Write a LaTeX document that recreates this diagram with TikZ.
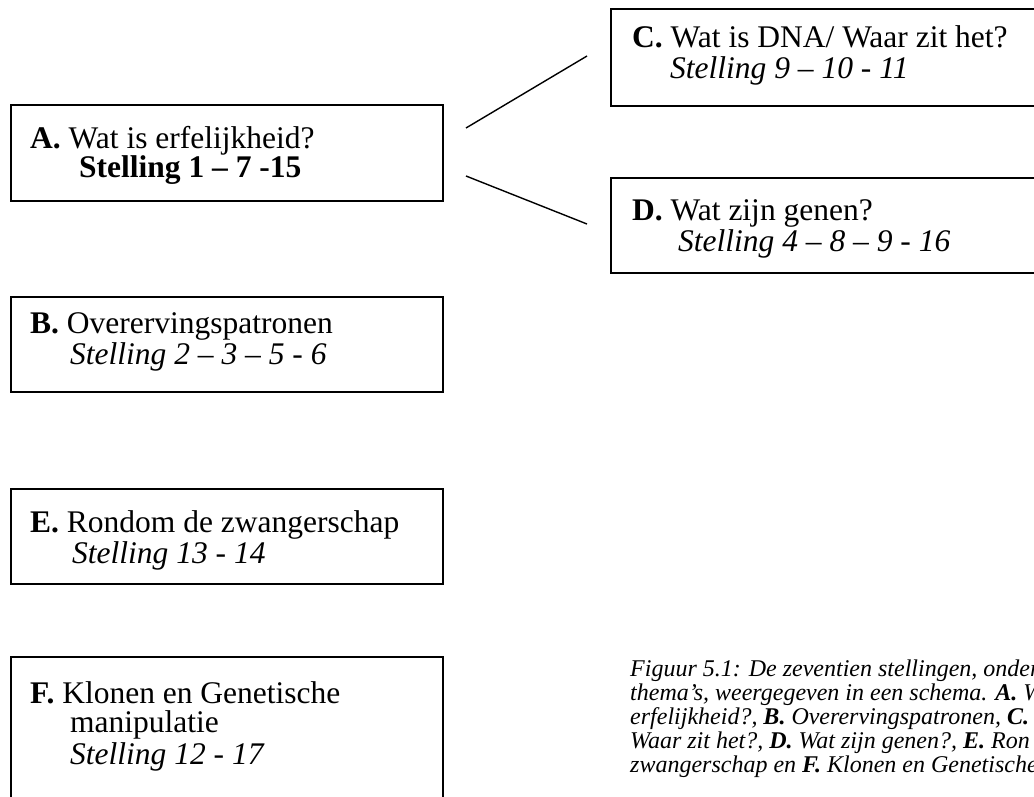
\documentclass[tikz,border=0pt]{standalone}
\usepackage{fontspec}
\setmainfont{Liberation Serif}
\begin{document}
\begin{tikzpicture}[x=1pt,y=-1pt,
  box/.style={draw=black,line width=1.5pt,fill=none,inner sep=0pt,anchor=north west},
  txt/.style={anchor=base west,inner sep=0pt,font=\fontsize{31.5}{36}\selectfont},
  captxt/.style={anchor=base west,inner sep=0pt,font=\fontsize{24}{27}\selectfont\itshape},
  link/.style={line width=1.4pt}]
\useasboundingbox (0,0) rectangle (1034,796);
\clip (0,0) rectangle (1034,796);
% boxes
\node[box,minimum width=432pt,minimum height=96pt] (A) at (10,104) {};
\node[box,minimum width=440pt,minimum height=97pt] (C) at (610,8) {};
\node[box,minimum width=440pt,minimum height=95pt] (D) at (610,177) {};
\node[box,minimum width=432pt,minimum height=95pt] (B) at (10,296) {};
\node[box,minimum width=432pt,minimum height=95pt] (E) at (10,488) {};
\node[box,minimum width=432pt,minimum height=160pt] (F) at (10,656) {};
% texts
\node[txt] (At1) at (30,148) {\textbf{A.} Wat is erfelijkheid?};
\node[txt] (At2) at (79,177) {\textbf{Stelling 1 – 7 -15}};
\node[txt] (Ct1) at (632,47) {\textbf{C.} Wat is DNA/ Waar zit het?};
\node[txt] (Ct2) at (670,78) {\textit{Stelling 9 – 10 - 11}};
\node[txt] (Dt1) at (632,220) {\textbf{D.} Wat zijn genen?};
\node[txt] (Dt2) at (678,251) {\textit{Stelling 4 – 8 – 9 - 16}};
\node[txt] (Bt1) at (30,333) {\textbf{B.} Overervingspatronen};
\node[txt] (Bt2) at (70,364) {\textit{Stelling 2 – 3 – 5 - 6}};
\node[txt] (Et1) at (30,532) {\textbf{E.} Rondom de zwangerschap};
\node[txt] (Et2) at (72,563) {\textit{Stelling 13 - 14}};
\node[txt] (Ft1) at (30,703) {\textbf{F.} Klonen en Genetische};
\node[txt] (Ft2) at (70,732) {manipulatie};
\node[txt] (Ft3) at (70,764) {\textit{Stelling 12 - 17}};
% connectors
\coordinate (a1) at (466,128);
\coordinate (c1) at (587,56);
\coordinate (a2) at (466,176);
\coordinate (d1) at (587,224);
\draw[link] (a1) -- (c1);
\draw[link] (a2) -- (d1);
% caption
\node[captxt] (cap1) at (630,676) {Figuur 5.1: De zeventien stellingen, onder};
\node[captxt] (cap2) at (630,700) {thema’s, weergegeven in een schema. \textbf{A.} W};
\node[captxt] (cap3) at (630,724) {erfelijkheid?, \textbf{B.} Overervingspatronen, \textbf{C.}};
\node[captxt] (cap4) at (630,748) {Waar zit het?, \textbf{D.} Wat zijn genen?, \textbf{E.} Ron};
\node[captxt] (cap5) at (630,772) {zwangerschap en \textbf{F.} Klonen en Genetische};
\end{tikzpicture}
\end{document}
